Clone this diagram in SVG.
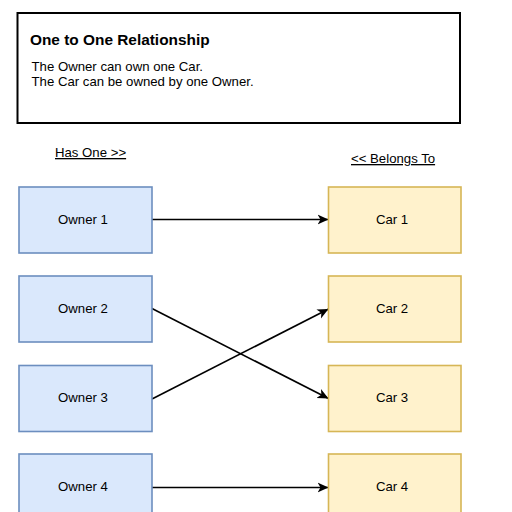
<svg xmlns="http://www.w3.org/2000/svg" width="512" height="512" viewBox="0 0 512 512">
<style>
text { font-family: "Liberation Sans", Arial, sans-serif; fill: #000; }
.lbl { font-size: 13.2px; text-anchor: middle; }
.owner { fill: #dae8fc; stroke: #6c8ebf; stroke-width: 1.6; }
.car { fill: #fff2cc; stroke: #d6b656; stroke-width: 1.6; }
.edge { fill: none; stroke: #000; stroke-width: 1.6; marker-end: url(#arr); }
.ul { font-size: 13.2px; text-decoration: underline; }
</style>
<defs>
<marker id="arr" markerUnits="userSpaceOnUse" markerWidth="12" markerHeight="12" refX="11" refY="5" orient="auto" viewBox="0 0 12 10">
<path d="M0,0 L11,5 L0,10 L3,5 Z" fill="#000"/>
</marker>
</defs>
<rect width="512" height="512" fill="#fff"/>
<g id="info">
<rect x="17.5" y="13" width="442.5" height="110" fill="#fff" stroke="#000" stroke-width="2"/>
<text x="30" y="44.5" font-size="15.4" font-weight="bold">One to One Relationship</text>
<text x="31.5" y="71" font-size="13.2">The Owner can own one Car.</text>
<text x="31.5" y="86" font-size="13.2">The Car can be owned by one Owner.</text>
</g>
<g id="has-one"><text class="ul" x="55" y="157">Has One &gt;&gt;</text></g>
<g id="belongs-to"><text class="ul" x="351" y="163">&lt;&lt; Belongs To</text></g>
<g id="connectors">
<path class="edge" d="M152,219.5 L328.5,219.5"/>
<path class="edge" d="M152,308.5 L328.5,398.5"/>
<path class="edge" d="M152,399 L328.5,309"/>
<path class="edge" d="M152,487.5 L328.5,487.5"/>
</g>
<g id="owner1"><rect class="owner" x="19" y="187" width="133" height="66"/><text class="lbl" x="83" y="224">Owner 1</text></g>
<g id="owner2"><rect class="owner" x="19" y="276" width="133" height="66"/><text class="lbl" x="83" y="312.5">Owner 2</text></g>
<g id="owner3"><rect class="owner" x="19" y="365.5" width="133" height="66"/><text class="lbl" x="83" y="401.5">Owner 3</text></g>
<g id="owner4"><rect class="owner" x="19" y="454" width="133" height="66"/><text class="lbl" x="83" y="490.5">Owner 4</text></g>
<g id="car1"><rect class="car" x="328.5" y="187" width="132.5" height="66"/><text class="lbl" x="392" y="224">Car 1</text></g>
<g id="car2"><rect class="car" x="328.5" y="276" width="132.5" height="66"/><text class="lbl" x="392" y="312.5">Car 2</text></g>
<g id="car3"><rect class="car" x="328.5" y="365.5" width="132.5" height="66"/><text class="lbl" x="392" y="401.5">Car 3</text></g>
<g id="car4"><rect class="car" x="328.5" y="454" width="132.5" height="66"/><text class="lbl" x="392" y="490.5">Car 4</text></g>
</svg>
